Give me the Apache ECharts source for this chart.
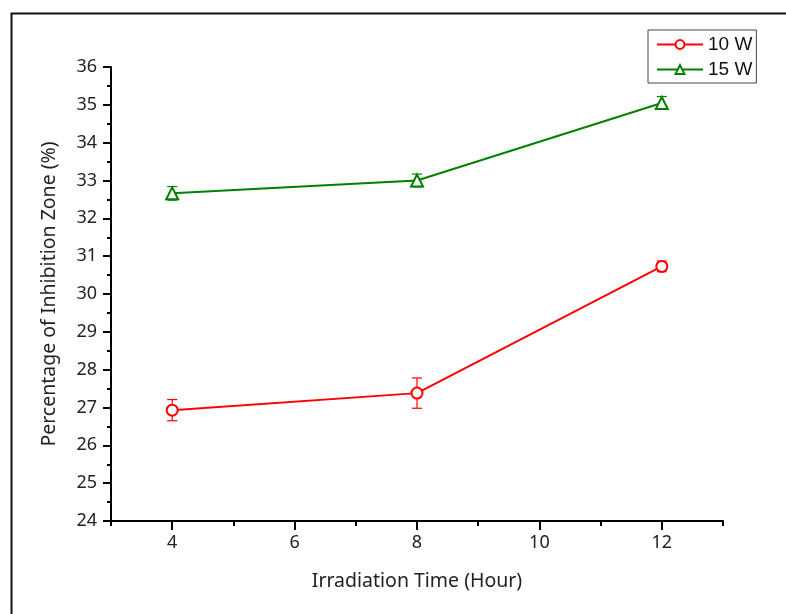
<!DOCTYPE html>
<html>
<head>
<meta charset="utf-8">
<script src="https://cdn.jsdelivr.net/npm/echarts@6/dist/echarts.min.js"></script>
<style>html,body{margin:0;padding:0;background:#fff}#c{width:786px;height:614px}</style>
</head>
<body>
<div id="c"></div>
<script>
const hours = [4, 8, 12];
const w10 = [26.93, 27.38, 30.73];
const w10err = [0.28, 0.40, 0.14];
const w15 = [32.66, 33.0, 35.05];
const w15err = [0.18, 0.17, 0.17];
const xTickLabels = [4, 6, 8, 10, 12];
const seriesNames = ['10 W', '15 W'];

const RED = '#ff0000', GREEN = '#008000';
const font = 'Noto Sans';

function errData(vals, errs) {
  return hours.map((h, i) => [h, vals[i] - errs[i], vals[i] + errs[i]]);
}
function errRender(color) {
  return function (params, api) {
    const x = api.value(0);
    const lo = api.coord([x, api.value(1)]);
    const hi = api.coord([x, api.value(2)]);
    const w = 5;
    const st = { stroke: color, lineWidth: 1.2 };
    return {
      type: 'group',
      children: [
        { type: 'line', shape: { x1: lo[0], y1: lo[1], x2: hi[0], y2: hi[1] }, style: st },
        { type: 'line', shape: { x1: lo[0] - w, y1: lo[1], x2: lo[0] + w, y2: lo[1] }, style: st },
        { type: 'line', shape: { x1: hi[0] - w, y1: hi[1], x2: hi[0] + w, y2: hi[1] }, style: st }
      ]
    };
  };
}

const chart = echarts.init(document.getElementById('c'), null, { renderer: 'canvas' });
chart.setOption({
  animation: false,
  backgroundColor: '#fff',
  graphic: [{
    type: 'rect', left: 9, top: 11, silent: true,
    shape: { width: 1000, height: 1000 },
    style: { fill: 'none', stroke: '#111', lineWidth: 2 }
  }],
  grid: { left: 111, top: 67, right: 63, bottom: 93 },
  legend: {
    data: seriesNames,
    orient: 'vertical',
    left: 648, top: 30,
    itemWidth: 46, itemHeight: 11, itemGap: 6,
    padding: [5, 4, 4, 8],
    borderColor: '#444', borderWidth: 1,
    textStyle: { fontFamily: 'Liberation Sans', fontSize: 19, color: '#111', padding: [0, 0, 0, 0] }
  },
  xAxis: [{
    type: 'value', min: 3, max: 13, interval: 1,
    splitLine: { show: false },
    axisLine: { onZero: false, lineStyle: { color: '#000', width: 2 } },
    axisTick: { inside: false, length: 5, lineStyle: { color: '#000', width: 2 } },
    axisLabel: {
      margin: 13, fontFamily: font, fontSize: 18, color: '#222',
      formatter: v => (xTickLabels.indexOf(v) >= 0 ? String(v) : '')
    },
    name: 'Irradiation Time (Hour)', nameLocation: 'middle', nameGap: 50,
    nameTextStyle: { fontFamily: font, fontSize: 19.5, color: '#222' }
  }, {
    type: 'value', min: 3, max: 13, interval: 1, position: 'bottom',
    splitLine: { show: false },
    axisLine: { show: false, onZero: false },
    axisTick: { show: true, length: 9, customValues: xTickLabels, lineStyle: { color: '#000', width: 2 } },
    axisLabel: { show: false }
  }],
  yAxis: {
    type: 'value', min: 24, max: 36, interval: 1,
    splitLine: { show: false },
    axisLine: { onZero: false, lineStyle: { color: '#000', width: 2 } },
    axisTick: { length: 8, lineStyle: { color: '#000', width: 2 } },
    minorTick: { show: true, splitNumber: 2, length: 4, lineStyle: { color: '#000', width: 2 } },
    axisLabel: { margin: 14, fontFamily: font, fontSize: 18, color: '#222' },
    name: 'Percentage of Inhibition Zone (%)', nameLocation: 'middle', nameGap: 52,
    nameTextStyle: { fontFamily: font, fontSize: 19.5, color: '#222' }
  },
  series: [{
    name: seriesNames[0], type: 'line',
    data: hours.map((h, i) => [h, w10[i]]),
    symbol: 'emptyCircle', symbolSize: 11,
    lineStyle: { color: RED, width: 2 },
    itemStyle: { color: RED, borderWidth: 1.2 },
    z: 3
  }, {
    name: seriesNames[1], type: 'line',
    data: hours.map((h, i) => [h, w15[i]]),
    symbol: 'emptyTriangle', symbolSize: 12,
    lineStyle: { color: GREEN, width: 2 },
    itemStyle: { color: GREEN, borderWidth: 1.2 },
    z: 3
  }, {
    type: 'custom', name: 'err10',
    data: errData(w10, w10err), renderItem: errRender(RED),
    encode: { x: 0, y: [1, 2] }, z: 2, silent: true
  }, {
    type: 'custom', name: 'err15',
    data: errData(w15, w15err), renderItem: errRender(GREEN),
    encode: { x: 0, y: [1, 2] }, z: 2, silent: true
  }]
});
</script>
</body>
</html>
